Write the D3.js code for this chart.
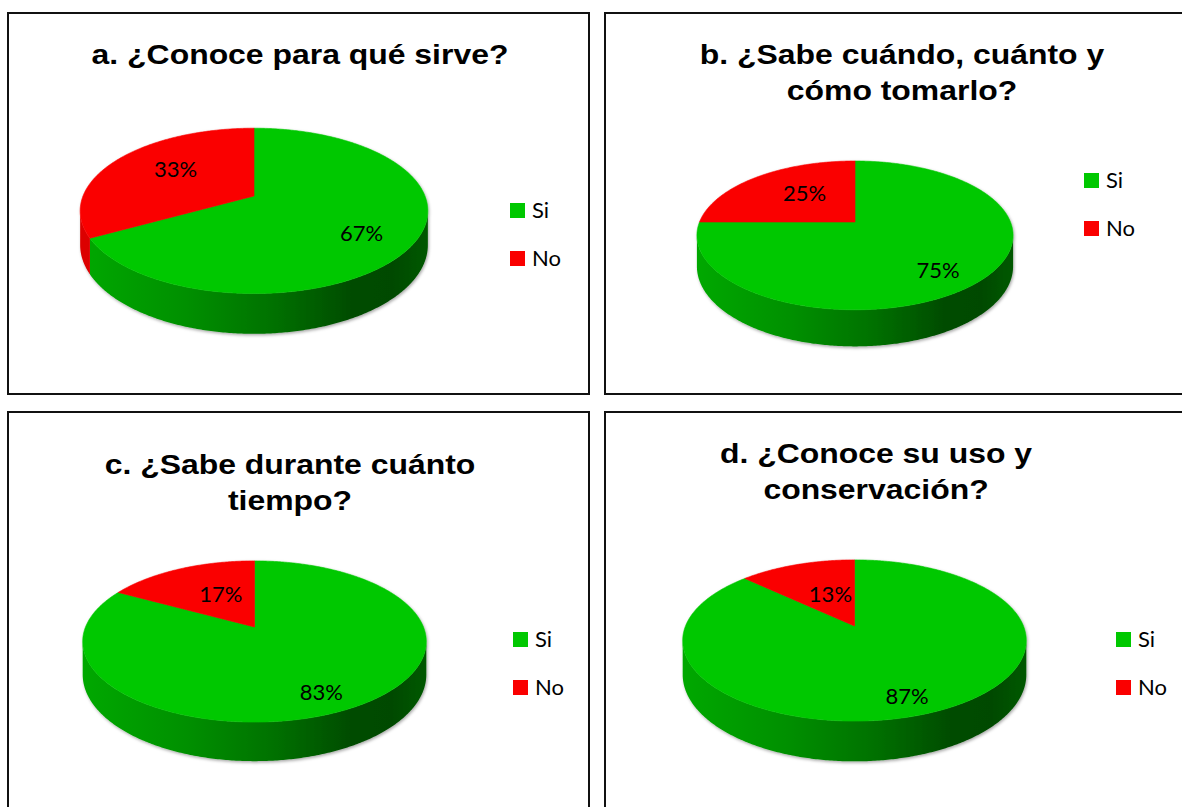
<!DOCTYPE html>
<html>
<head>
<meta charset="utf-8">
<script src="https://cdn.jsdelivr.net/npm/d3@7"></script>
<style>
  html, body { margin: 0; padding: 0; background: #fff; }
  svg { display: block; }
</style>
</head>
<body>
<svg id="chart" width="1182" height="807"></svg>
<script>
// ---------- DATA ----------
const categories = ["Si", "No"];
const titles = [
  ["a. ¿Conoce para qué sirve?"],
  ["b. ¿Sabe cuándo, cuánto y", "cómo tomarlo?"],
  ["c. ¿Sabe durante cuánto", "tiempo?"],
  ["d. ¿Conoce su uso y", "conservación?"]
];
const siValues = [67, 75, 83, 87];
const noValues = [33, 25, 17, 13];

// ---------- LAYOUT / STYLE ----------
const panels = [
  { x: 8,   y: 13,  w: 581, h: 381, tx: 300, ty: 64,  cx: 254, cy: 196, A: 171, B: 80, H: 33, lx: 510,  ly: 203 },
  { x: 605, y: 13,  w: 600, h: 381, tx: 902, ty: 64,  cx: 855, cy: 222, A: 155.5, B: 72, H: 30, lx: 1084, ly: 173 },
  { x: 8,   y: 412, w: 581, h: 420, tx: 290, ty: 474, cx: 254.5, cy: 627, A: 169, B: 78, H: 32, lx: 513, ly: 632 },
  { x: 605, y: 412, w: 600, h: 420, tx: 876, ty: 463, cx: 854.5, cy: 626, A: 169, B: 78, H: 33, lx: 1116, ly: 632 }
];
const K = 0.18; // perspective strength
const color = d3.scaleOrdinal().domain(categories).range(["#00c800", "#fa0000"]);
const sideColor = d3.scaleOrdinal().domain(categories).range(["url(#g)", "#dc0000"]);

const svg = d3.select("#chart");
const defs = svg.append("defs");
const f = defs.append("filter").attr("id", "shadow")
  .attr("x", "-10%").attr("y", "-10%").attr("width", "120%").attr("height", "130%");
f.append("feDropShadow").attr("dx", 1).attr("dy", 1.5).attr("stdDeviation", 1.6)
  .attr("flood-color", "#000").attr("flood-opacity", 0.35);

const pie = d3.pie().sort(null).value(d => d.value);
const aFront0 = Math.acos(-K);           // right silhouette angle
const aFront1 = 2 * Math.PI - Math.acos(-K); // left silhouette angle

panels.forEach((p, i) => {
  const g = svg.append("g");
  // panel border
  g.append("rect").attr("x", p.x).attr("y", p.y).attr("width", p.w).attr("height", p.h)
    .attr("fill", "#fff").attr("stroke", "#111").attr("stroke-width", 2);

  // gradient for side
  const gid = "g" + i;
  const halfW = p.A / Math.sqrt(1 - K * K);
  const lg = defs.append("linearGradient").attr("id", gid)
    .attr("gradientUnits", "userSpaceOnUse")
    .attr("x1", p.cx - halfW).attr("x2", p.cx + halfW).attr("y1", 0).attr("y2", 0);
  [[0, "#00a800"], [0.3, "#009000"], [0.55, "#007200"], [0.78, "#004c00"], [0.9, "#004a00"], [1, "#005800"]]
    .forEach(s => lg.append("stop").attr("offset", s[0]).attr("stop-color", s[1]));

  // title
  titles[i].forEach((line, j) => {
    g.append("text")
      .attr("transform", `translate(${p.tx},${p.ty + j * 36}) scale(1.14,1)`)
      .attr("text-anchor", "middle")
      .attr("font-family", "'Liberation Sans', Arial, sans-serif")
      .attr("font-weight", "bold").attr("font-size", 28).attr("fill", "#000")
      .text(line);
  });

  const data = categories.map((c, j) => ({ cat: c, value: j === 0 ? siValues[i] : noValues[i] }));
  const arcs = pie(data);
  const total = d3.sum(data, d => d.value);

  const proj = (a, r, z) => {
    const u = r * Math.sin(a), v = r * Math.cos(a);
    const den = 1 + K * v;
    return [p.cx + p.A * u / den, p.cy - p.B * v / den + z * p.H / den];
  };
  const rim = (a0, a1, z) => {
    const n = Math.max(2, Math.ceil(Math.abs(a1 - a0) / 0.01));
    return d3.range(n + 1).map(t => proj(a0 + (a1 - a0) * t / n, 1, z));
  };

  const pg = g.append("g").attr("filter", "url(#shadow)");
  // sides
  arcs.forEach(d => {
    const s = Math.max(d.startAngle, aFront0), e = Math.min(d.endAngle, aFront1);
    if (e <= s) return;
    const pts = rim(s, e, 0).concat(rim(e, s, 1));
    pg.append("path").attr("d", d3.line()(pts) + "Z")
      .attr("fill", d.data.cat === "Si" ? `url(#${gid})` : sideColor(d.data.cat));
  });
  // tops
  arcs.forEach(d => {
    const pts = [proj(0, 0, 0)].concat(rim(d.startAngle, d.endAngle, 0));
    pg.append("path").attr("d", d3.line()(pts) + "Z")
      .attr("fill", color(d.data.cat))
      .attr("stroke", color(d.data.cat)).attr("stroke-width", 0.6);
  });
  // labels
  arcs.forEach(d => {
    const frac = d.value / total;
    const r = Math.min(0.3 + frac, 0.75);
    const m = (d.startAngle + d.endAngle) / 2;
    const ru = 0.9 * r, rv = 1.125 * r;
    const u = ru * Math.sin(m), v = rv * Math.cos(m);
    const den = 1 + K * v;
    const x = p.cx + p.A * u / den, y = p.cy - p.B * v / den;
    g.append("text").attr("x", x).attr("y", y + 8)
      .attr("text-anchor", "middle")
      .attr("font-family", "Lato, 'Open Sans', sans-serif").attr("font-size", 22).attr("fill", "#000")
      .text(d.value + "%");
  });

  // legend
  categories.forEach((c, j) => {
    const y = p.ly + j * 48;
    g.append("rect").attr("x", p.lx).attr("y", y).attr("width", 15).attr("height", 15).attr("fill", color(c));
    g.append("text").attr("x", p.lx + 22).attr("y", y + 15)
      .attr("font-family", "Lato, 'Open Sans', sans-serif").attr("font-size", 22).attr("fill", "#000")
      .text(c);
  });
});
</script>
</body>
</html>
